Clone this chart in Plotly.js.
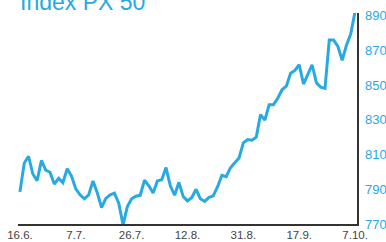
<!DOCTYPE html>
<html>
<head>
<meta charset="utf-8">
<script src="https://cdn.plot.ly/plotly-3.0.1.min.js"></script>
<style>
  html, body { margin: 0; padding: 0; background: #fff; }
  #chart { width: 386px; height: 242px; }
</style>
</head>
<body>
<div id="chart"></div>
<script>
// Index PX 50, daily closes (trading days), 16.6. – 7.10.
const values = [
  788.5, 805.0, 809.0, 798.8, 795.0, 806.6, 801.0, 799.8, 793.0, 796.3,
  793.8, 801.8, 797.6, 790.2, 786.8, 784.5, 786.8, 794.8, 788.0, 779.5,
  784.7, 786.8, 787.7, 782.0, 769.5, 780.0, 784.5, 786.0, 786.6, 795.3,
  792.0, 787.8, 794.8, 795.5, 802.5, 792.0, 786.6, 794.0, 785.8, 783.3,
  785.3, 790.0, 784.5, 783.0, 785.3, 786.2, 791.5, 798.0, 797.2, 802.4,
  805.3, 808.0, 816.7, 818.6, 818.2, 820.0, 833.0, 829.8, 838.6, 838.6,
  842.4, 847.3, 849.4, 856.8, 858.4, 861.7, 850.6, 856.5, 861.7, 851.3,
  848.8, 848.1, 876.0, 876.0, 872.3, 864.3, 873.0, 879.5, 892.3
];
const tickPositions = [0, 13, 26, 39, 52, 65, 78];
const tickLabels = ["16.6.", "7.7.", "26.7.", "12.8.", "31.8.", "17.9.", "7.10."];
const yTicks = [770, 790, 810, 830, 850, 870, 890];
const titleText = "Index PX 50";

const xs = values.map((_, i) => i);
const blue = "#29a9e1";

Plotly.newPlot("chart", [{
  type: "scatter",
  mode: "lines",
  x: xs,
  y: values,
  line: { color: blue, width: 3, shape: "linear" },
  hoverinfo: "skip"
}], {
  width: 386,
  height: 242,
  margin: { l: 18, r: 29, t: 13, b: 18, pad: 0 },
  paper_bgcolor: "#fff",
  plot_bgcolor: "#fff",
  showlegend: false,
  font: { family: "Liberation Sans, Arial, sans-serif" },
  xaxis: {
    range: [-0.45, 78.45],
    tickvals: tickPositions,
    ticktext: tickLabels,
    showgrid: false,
    zeroline: false,
    showline: true,
    linecolor: "#333",
    linewidth: 1.5,
    ticks: "",
    ticklabelstandoff: 0,
    tickfont: { size: 11.5, color: "#444" },
    fixedrange: true
  },
  yaxis: {
    side: "right",
    range: [770, 891.5],
    tickvals: yTicks,
    showgrid: false,
    zeroline: false,
    showline: true,
    linecolor: "#333",
    linewidth: 1.5,
    ticks: "",
    ticklabelstandoff: 4,
    tickfont: { size: 13, color: blue },
    fixedrange: true
  },
  annotations: [{
    text: titleText,
    xref: "paper", yref: "paper",
    x: 0, y: 1,
    xanchor: "left", yanchor: "bottom",
    xshift: 0, yshift: -4,
    showarrow: false,
    font: { size: 23, color: blue, family: "Liberation Sans, Arial, sans-serif" }
  }]
}, { staticPlot: true, displayModeBar: false });
</script>
</body>
</html>
